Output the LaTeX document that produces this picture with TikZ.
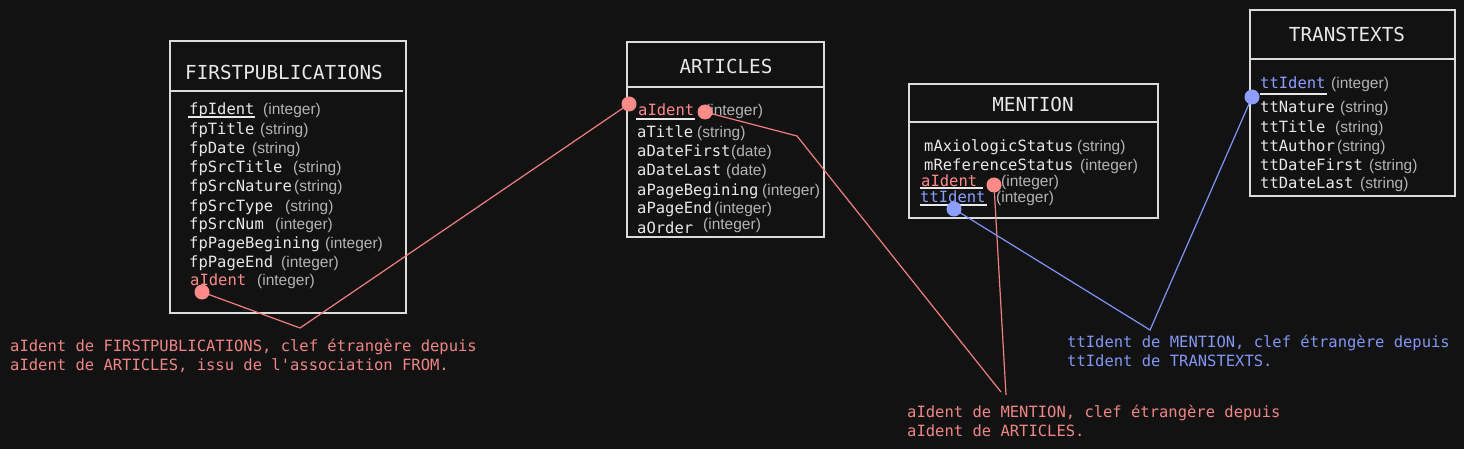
\documentclass[tikz,border=0pt]{standalone}
\usepackage{fontspec}
\setmainfont{Liberation Sans}
\newfontfamily\monof{DejaVu Sans Mono}
\definecolor{bgc}{HTML}{121212}
\definecolor{borderc}{HTML}{DCDCDC}
\definecolor{namec}{HTML}{E8E8E8}
\definecolor{typec}{HTML}{B4B4B4}
\definecolor{reddot}{HTML}{FF8A8A}
\definecolor{redline}{HTML}{F08080}
\definecolor{redtext}{HTML}{F08585}
\definecolor{bluedot}{HTML}{8C9EFF}
\definecolor{blueline}{HTML}{7F95F5}
\definecolor{bluetext}{HTML}{8296F2}
\newcommand\fieldrow[7]{%
  \node[fname,#7] (#1) at (#2,#3) {#4};
  \node[ftype] (#1t) at (#5,#3) {#6};}
\begin{document}
\begin{tikzpicture}[x=1pt,y=-1pt,
  tbox/.style={draw=borderc, line width=2pt, inner sep=0pt},
  sepline/.style={draw=borderc, line width=1.4pt},
  keyline/.style={draw=namec, line width=1.2pt},
  ttl/.style={font=\monof\fontsize{19.3}{22}\selectfont, text=namec, inner sep=0pt},
  fname/.style={font=\monof\fontsize{15.5}{18}\selectfont, text=namec, anchor=west, inner sep=0pt, text height=11pt, text depth=0pt},
  ftype/.style={font=\fontsize{15.5}{18}\selectfont, text=typec, anchor=west, inner sep=0pt, text height=11pt, text depth=0pt},
  redf/.style={text=reddot},
  bluef/.style={text=bluedot},
  plain/.style={},
  rdot/.style={circle, fill=reddot, minimum size=15pt, inner sep=0pt},
  bdot/.style={circle, fill=bluedot, minimum size=15pt, inner sep=0pt},
  redconn/.style={draw=redline, line width=1.2pt},
  blueconn/.style={draw=blueline, line width=1.2pt},
  annred/.style={fname, text=redtext},
  annblue/.style={fname, text=bluetext}]
\fill[bgc] (0,0) rectangle (1464,449);
\useasboundingbox (0,0) rectangle (1464,449);

% ---------- FIRSTPUBLICATIONS ----------
\node[tbox, minimum width=236pt, minimum height=272pt] (fpbox) at (288,177) {};
\draw[sepline] (171,91) -- (403,91);
\node[ttl] (fptitle) at (284,72) {FIRSTPUBLICATIONS};
\fieldrow{fp1}{189}{109}{fpIdent}{263}{(integer)}{plain}
\fieldrow{fp2}{189}{129}{fpTitle}{260}{(string)}{plain}
\fieldrow{fp3}{189}{148}{fpDate}{252}{(string)}{plain}
\fieldrow{fp4}{189}{167}{fpSrcTitle}{293}{(string)}{plain}
\fieldrow{fp5}{189}{186}{fpSrcNature}{294}{(string)}{plain}
\fieldrow{fp6}{189}{206}{fpSrcType}{285}{(string)}{plain}
\fieldrow{fp7}{189}{224}{fpSrcNum}{275}{(integer)}{plain}
\fieldrow{fp8}{189}{243}{fpPageBegining}{325}{(integer)}{plain}
\fieldrow{fp9}{189}{262}{fpPageEnd}{281}{(integer)}{plain}
\fieldrow{fp10}{190}{280}{aIdent}{257}{(integer)}{redf}
\draw[keyline] (188,117) -- (255,117);

% ---------- ARTICLES ----------
\node[tbox, minimum width=197pt, minimum height=195pt] (artbox) at (725.5,139.5) {};
\draw[sepline] (628,87) -- (823,87);
\node[ttl] (arttitle) at (726,66) {ARTICLES};
\fieldrow{a1}{638}{110}{aIdent}{705}{(integer)}{redf}
\fieldrow{a2}{637}{132}{aTitle}{697}{(string)}{plain}
\fieldrow{a3}{637}{151}{aDateFirst}{731}{(date)}{plain}
\fieldrow{a4}{637}{170}{aDateLast}{726}{(date)}{plain}
\fieldrow{a5}{637}{190}{aPageBegining}{762}{(integer)}{plain}
\fieldrow{a6}{637}{208}{aPageEnd}{714}{(integer)}{plain}
\node[fname] (a7) at (637,228) {aOrder};
\node[ftype] (a7t) at (703,224) {(integer)};
\draw[keyline] (636,119) -- (695,119);

% ---------- MENTION ----------
\node[tbox, minimum width=249pt, minimum height=134pt] (menbox) at (1033.5,151) {};
\draw[sepline] (910,122) -- (1157,122);
\node[ttl] (mentitle) at (1033,104) {MENTION};
\fieldrow{m1}{924}{146}{mAxiologicStatus}{1077}{(string)}{plain}
\fieldrow{m2}{924}{165}{mReferenceStatus}{1080}{(integer)}{plain}
\fieldrow{m3}{921}{181}{aIdent}{1001}{(integer)}{redf}
\fieldrow{m4}{920}{197}{ttIdent}{996}{(integer)}{bluef}
\draw[keyline] (920,188) -- (983,188);
\draw[keyline] (920,205) -- (987,205);

% ---------- TRANSTEXTS ----------
\node[tbox, minimum width=205pt, minimum height=186pt] (ttbox) at (1352.5,103) {};
\draw[sepline] (1251,59) -- (1454,59);
\node[ttl] (tttitle) at (1347,34) {TRANSTEXTS};
\fieldrow{t1}{1260}{83}{ttIdent}{1331}{(integer)}{bluef}
\fieldrow{t2}{1260}{107}{ttNature}{1340}{(string)}{plain}
\fieldrow{t3}{1260}{127}{ttTitle}{1335}{(string)}{plain}
\fieldrow{t4}{1260}{146}{ttAuthor}{1337}{(string)}{plain}
\fieldrow{t5}{1260}{165}{ttDateFirst}{1369}{(string)}{plain}
\fieldrow{t6}{1260}{183}{ttDateLast}{1360}{(string)}{plain}
\draw[keyline] (1260,94) -- (1327,94);

% ---------- bend points ----------
\coordinate (b1) at (300,328);
\coordinate (b2) at (797,136);
\coordinate (e1) at (1001,392);
\coordinate (e2) at (1006,395);
\coordinate (b3) at (1150,330);

% ---------- connectors ----------
\coordinate (fpdotc) at (202,292);
\coordinate (artdotlc) at (629,104);
\coordinate (artdotrc) at (705,112);
\coordinate (mdotrc) at (994,185);
\coordinate (mdotbc) at (954,209);
\coordinate (ttdotc) at (1252,97);
\draw[redconn] (fpdotc) -- (b1) -- (artdotlc);
\draw[redconn] (artdotrc) -- (b2) -- (e1);
\draw[redconn] (mdotrc) -- (e2);
\draw[blueconn] (mdotbc) -- (b3) -- (ttdotc);

% ---------- dots ----------
\node[rdot] (fpdot) at (fpdotc) {};
\node[rdot] (artdotl) at (artdotlc) {};
\node[rdot] (artdotr) at (artdotrc) {};
\node[rdot] (mdotr) at (mdotrc) {};
\node[bdot] (mdotb) at (mdotbc) {};
\node[bdot] (ttdot) at (ttdotc) {};

% ---------- annotations ----------
\node[annred] (ann1a) at (10,346) {aIdent de FIRSTPUBLICATIONS, clef étrangère depuis};
\node[annred] (ann1b) at (10,365) {aIdent de ARTICLES, issu de l'association FROM.};
\node[annred] (ann2a) at (907,412) {aIdent de MENTION, clef étrangère depuis};
\node[annred] (ann2b) at (907,431) {aIdent de ARTICLES.};
\node[annblue] (ann3a) at (1067,342) {ttIdent de MENTION, clef étrangère depuis};
\node[annblue] (ann3b) at (1067,361) {ttIdent de TRANSTEXTS.};
\end{tikzpicture}
\end{document}
